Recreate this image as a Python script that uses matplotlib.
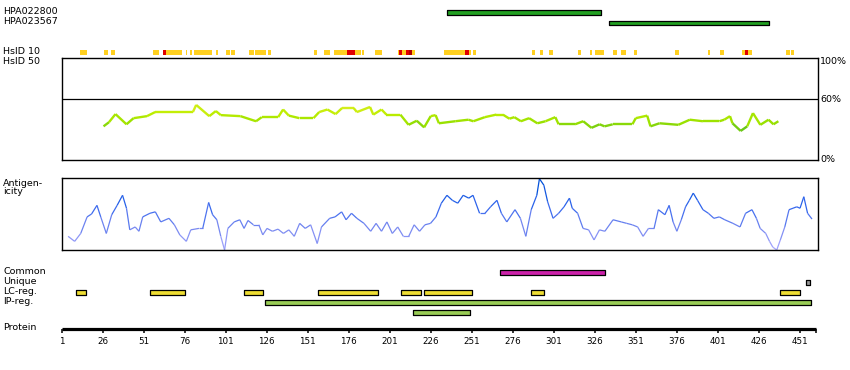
import numpy as np
import matplotlib
matplotlib.use("Agg")
import matplotlib.pyplot as plt
from matplotlib.collections import LineCollection
from matplotlib.colors import LinearSegmentedColormap

plt.rcParams['font.family'] = ['DejaVu Sans']

# protein length and tick labels
protein_length = 461
tick_residues = list(range(1, 452, 25))

# antibodies and their antigen ranges
antibodies = ["HPA022800", "HPA023567"]
antibody_ranges = [(236, 330), (335, 432)]

# HsID 10 blocks (start, end) by identity level
hsid10_yellow = [(12.2, 16.4), (27, 29.4), (31, 33.4), (56.7, 60.1), (64.4, 73), (73.3, 74.4),
                 (76.6, 77.6), (79, 80.3), (81.9, 92.5), (95, 96.3), (101.2, 103.8), (104.4, 106.7),
                 (115.4, 118.3), (118.9, 125.4), (126.6, 128.4), (154.8, 156.4), (160.9, 164.7),
                 (167, 175.2), (179.9, 183.6), (184.2, 185.1), (192.1, 196.4), (206, 206.7),
                 (208.6, 210.9), (214.4, 216.6), (234.3, 246.9), (249.5, 250.8), (251.9, 253.8),
                 (287.8, 289.8), (292.8, 294.7), (298.3, 300.7), (316, 317.8), (323.4, 324.5),
                 (326.4, 331.9), (337.3, 339.8), (342.2, 344.8), (350.1, 352), (375.2, 377.1),
                 (395.3, 396.6), (402.2, 405.1), (416.1, 417.8), (419.5, 421.7), (442.4, 444.8),
                 (445.4, 447.8)]
hsid10_red = [(62.6, 64.4), (175.2, 179.9), (206.7, 208.6), (210.9, 212.9), (246.9, 249.5),
              (417.8, 419.5)]
hsid10_darkred = [(212.9, 214.4)]

# HsID 50 identity curve (%)
hsid50_res = [26.5, 29.8, 33.8, 40.5, 44.8, 53, 58, 81, 83, 91, 95, 98, 110, 119.5, 123, 133,
              136, 139.5, 146, 154.5, 158, 163, 168, 172, 179, 181, 189, 191, 196, 199, 207.5,
              212.5, 217.5, 222, 226, 229, 231, 241, 249, 252, 259, 266, 270, 274, 277, 281,
              286, 291, 296, 302, 304, 314, 319, 324, 329, 332, 337, 349, 351, 358, 360, 365.5,
              377, 384, 392, 402, 405, 408.5, 410, 415, 419, 422.5, 427, 432, 435, 438]
hsid50_val = [33, 37, 45, 35, 41, 43, 47, 47, 54, 43, 48, 44, 43, 38, 42, 42,
              49.5, 43.5, 41, 41, 47, 49.5, 45, 51, 51, 47, 52, 44.5, 49.5, 44.5, 44.5,
              34.5, 38.5, 32, 43, 44, 36, 38, 39.5, 38, 42, 44.5, 44.5, 40.5, 42, 38,
              41, 36, 38, 42, 35, 35, 38, 31.5, 35, 33, 35, 35, 41, 43.5, 33, 36,
              34.5, 39.5, 38, 38, 39.5, 43, 36, 28.5, 33, 46, 34.5, 39.5, 35, 38]

# antigenicity curve (0..1)
antigen_res = [4.9, 8.9, 12.6, 16.5, 19.2, 22.5, 24.8, 28.2, 31.5, 34.8, 38.1, 40.5, 42.5, 45.8,
               48.1, 50.4, 54.8, 58.1, 61.4, 66.4, 69.7, 73, 77, 79.7, 84.7, 87, 90.6, 93, 95.6,
               98, 100.3, 102.3, 106.2, 109.6, 112.2, 114.6, 117.9, 121.2, 123.6, 126.2, 129.5,
               132.9, 136.2, 139.5, 142.8, 146.1, 149.5, 152.8, 156.8, 159.4, 164.4, 167.7, 171.7,
               174.4, 177.7, 181, 185.3, 189.4, 192.7, 196, 199.3, 202.6, 205.9, 209.3, 212.6,
               215.9, 219.2, 222.5, 225.9, 229.2, 232.5, 235.9, 239.2, 242.5, 245.8, 249.2, 251.8,
               255.8, 259.1, 262.5, 266.4, 269.1, 272.4, 277.4, 280.7, 284, 287.3, 290.7, 292.3,
               295, 297.3, 300.6, 304, 307.3, 310.6, 312.3, 315.6, 318.9, 322.3, 325.6, 328.9,
               332.2, 337.2, 342.2, 345.5, 348.9, 352.2, 355.5, 358.8, 362.2, 364.8, 368.8, 371.4,
               373.8, 376.1, 378.8, 381.4, 383.7, 386.1, 388.7, 392, 395.3, 398.7, 402, 405.3,
               410.3, 414.6, 418, 421.9, 424.6, 426.9, 430.3, 432.6, 434.6, 437, 439.2, 441.9,
               444.5, 446.9, 449.2, 451.2, 453.5, 455.8, 458.5]
antigen_val = [0.19, 0.12, 0.23, 0.46, 0.5, 0.62, 0.46, 0.23, 0.49, 0.62, 0.76, 0.58, 0.28, 0.32,
               0.26, 0.46, 0.51, 0.53, 0.39, 0.44, 0.35, 0.21, 0.12, 0.28, 0.3, 0.3, 0.66, 0.49, 0.42,
               0.19, 0.0, 0.3, 0.39, 0.42, 0.3, 0.41, 0.35, 0.35, 0.21, 0.3, 0.26,
               0.29, 0.23, 0.28, 0.19, 0.37, 0.3, 0.35, 0.09, 0.32, 0.44, 0.46, 0.53,
               0.42, 0.51, 0.44, 0.37, 0.26, 0.37, 0.26, 0.39, 0.23, 0.32, 0.19, 0.19,
               0.35, 0.26, 0.35, 0.37, 0.46, 0.65, 0.76, 0.69, 0.65, 0.76, 0.72, 0.76,
               0.51, 0.51, 0.6, 0.69, 0.51, 0.39, 0.56, 0.44, 0.19, 0.56, 0.76, 0.99,
               0.9, 0.67, 0.44, 0.51, 0.6, 0.72, 0.58, 0.51, 0.3, 0.28, 0.14, 0.28,
               0.26, 0.42, 0.39, 0.37, 0.35, 0.32, 0.19, 0.3, 0.3, 0.56, 0.49, 0.62,
               0.39, 0.26, 0.42, 0.6, 0.69, 0.79, 0.69, 0.56, 0.51, 0.44, 0.46, 0.42,
               0.37, 0.32, 0.51, 0.56, 0.44, 0.3, 0.23, 0.12, 0.04, 0.0, 0.14, 0.32,
               0.56, 0.58, 0.6, 0.58, 0.74, 0.51, 0.43]

# feature rows
common_ranges = [(268, 332)]
unique_ranges = [(455, 457)]
lc_ranges = [(10, 16), (55, 76), (112, 124), (157, 194), (208, 220), (222, 251), (287, 295), (439, 451)]
ip_ranges = [(125, 458)]
ip_ranges2 = [(215, 250)]

# pixel mapping: residue -> x pixel
PX0, PX_PER_RES = 61.7, 1.64
W, H = 850, 370


def res_at(px):
    return 1 + (px - PX0) / PX_PER_RES


fig = plt.figure(figsize=(W / 100, H / 100), dpi=100)

# overlay axes in residue / pixel-row coordinates
ax = fig.add_axes([0, 0, 1, 1])
ax.set_xlim(res_at(0), res_at(W))
ax.set_ylim(H, 0)
ax.axis('off')

fs = 6.8
left_labels = [("HPA022800", 12), ("HPA023567", 22), ("HsID 10", 52), ("HsID 50", 62),
               ("Antigen-", 183), ("icity", 192), ("Common", 272), ("Unique", 282),
               ("LC-reg.", 292), ("IP-reg.", 302), ("Protein", 328)]
for txt, y in left_labels:
    ax.text(res_at(3), y, txt, fontsize=fs, va='center', ha='left')


def bars(ranges, y, color, h=4.5, edge=True):
    ax.broken_barh([(s, e - s) for s, e in ranges], (y - h / 2, h), facecolor=color,
                   edgecolor='black' if edge else 'none', linewidth=0.9 if edge else 0)


bars(antibody_ranges[:1], 12.5, '#22a022')
bars(antibody_ranges[1:], 23, '#22a022')

bars(hsid10_yellow, 52, '#ffd020', h=5, edge=False)
bars(hsid10_red, 52, '#e00000', h=5, edge=False)
bars(hsid10_darkred, 52, '#b00000', h=5, edge=False)

bars(common_ranges, 272.3, '#cc22aa')
bars(unique_ranges, 282.3, '#999999')
bars(lc_ranges, 292.3, '#eedd33')
bars(ip_ranges, 302.3, '#99cc55')
bars(ip_ranges2, 312.3, '#99cc55')

# protein axis
ax.hlines(329.3, 1, protein_length, color='black', linewidth=2.3)
ax.vlines(tick_residues + [protein_length], 329.3, 333, color='black', linewidth=1.1)
for t in tick_residues:
    ax.text(t, 341, str(t), fontsize=6.3, ha='center', va='center')

# right side % labels
for txt, y in [("100%", 62), ("60%", 100), ("0%", 160)]:
    ax.text(res_at(820), y, txt, fontsize=fs, ha='left', va='center')


def panel(top, bottom):
    a = fig.add_axes([62 / W, 1 - bottom / H, (818 - 62) / W, (bottom - top) / H])
    a.set_xlim(res_at(62), res_at(818))
    a.set_xticks([])
    a.set_yticks([])
    for s in a.spines.values():
        s.set_linewidth(1.0)
    return a


# HsID 50 panel
ax50 = panel(58, 160)
ax50.set_ylim(0, 100)
ax50.axhline(60, color='black', linewidth=0.9)
cmap50 = LinearSegmentedColormap.from_list('id50', ['#55bb22', '#99e100', '#bfee00', '#e4ee30'])
pts = np.column_stack([hsid50_res, hsid50_val])
segs = np.stack([pts[:-1], pts[1:]], axis=1)
lc = LineCollection(segs, cmap=cmap50, linewidths=1.7, capstyle='butt')
lc.set_array((pts[:-1, 1] + pts[1:, 1]) / 2)
lc.set_clim(28, 55)
ax50.add_collection(lc)

# antigenicity panel
axag = panel(178, 250)
axag.set_ylim(0, 1.0)
cmapag = LinearSegmentedColormap.from_list('ag', ['#aaaaff', '#7788f0', '#3366ee', '#0050d8'])
pts = np.column_stack([antigen_res, antigen_val])
segs = np.stack([pts[:-1], pts[1:]], axis=1)
lc2 = LineCollection(segs, cmap=cmapag, linewidths=0.9)
lc2.set_array((pts[:-1, 1] + pts[1:, 1]) / 2)
lc2.set_clim(0, 0.9)
axag.add_collection(lc2)

fig.savefig("out.png", dpi=100)
